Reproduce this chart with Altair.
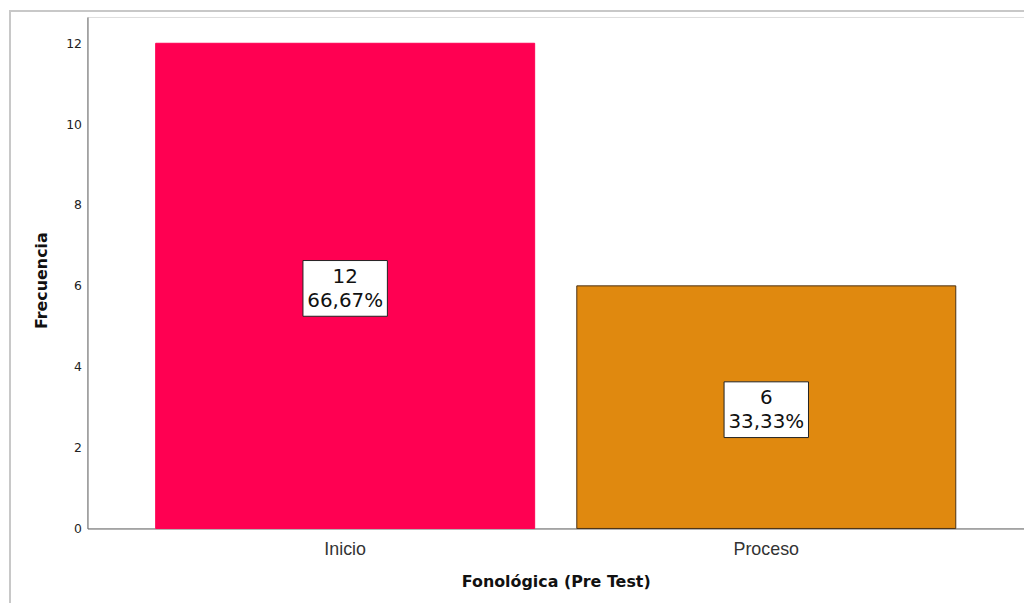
import altair as alt
import pandas as pd

categories = ["Inicio", "Proceso"]
counts = [12, 6]
percents = ["66,67%", "33,33%"]
fills = ["#FF0052", "#E0890F"]
strokes = ["#FF0052", "#4A3015"]

df = pd.DataFrame({
    "cat": categories,
    "n": counts,
    "pct": percents,
    "fill": fills,
    "stroke": strokes,
})
df["mid"] = df["n"] / 2
df["lbl"] = [[str(n), p] for n, p in zip(counts, percents)]

W, H = 943, 515
FONT = "DejaVu Sans"

x_scale = alt.Scale(paddingInner=0.1, paddingOuter=0.162, round=False)
x_enc = alt.X("cat:N", sort=categories, scale=x_scale,
              axis=alt.Axis(title="Fonológica (Pre Test)", labelAngle=0, ticks=False,
                            labelFont="Liberation Sans", labelFontSize=18,
                            labelColor="#333", labelPadding=12,
                            titleFont=FONT, titleFontSize=16, titleFontWeight="bold",
                            titleColor="#111", titlePadding=15, domainColor="#666"))
y_scale = alt.Scale(domain=[0, 12.65], nice=False, zero=True)

bars = alt.Chart(df).mark_bar(strokeWidth=1).encode(
    x=x_enc,
    y=alt.Y("n:Q", scale=y_scale,
            axis=alt.Axis(title="Frecuencia", values=[0, 2, 4, 6, 8, 10, 12], ticks=False,
                          grid=False, labelFont=FONT, labelFontSize=12.5,
                          labelColor="#222", labelPadding=6,
                          titleFont=FONT, titleFontSize=16, titleFontWeight="bold",
                          titleColor="#111", titlePadding=16, titleY=265,
                          domainColor="#666")),
    fill=alt.Fill("fill:N", scale=None),
    stroke=alt.Stroke("stroke:N", scale=None),
)

boxes = alt.Chart(df).mark_point(
    shape="M-1,-0.6L1,-0.6L1,0.72L-1,0.72Z", size=7225, filled=True,
    fill="white", stroke="#222", strokeWidth=1, opacity=1
).encode(
    x=alt.X("cat:N", sort=categories, scale=x_scale),
    y=alt.Y("mid:Q", scale=y_scale),
)

texts = alt.Chart(df).mark_text(
    fontSize=20, font=FONT, color="#111", baseline="middle", align="center",
    lineHeight=24, dy=-9
).encode(
    x=alt.X("cat:N", sort=categories, scale=x_scale),
    y=alt.Y("mid:Q", scale=y_scale),
    text="lbl",
)

frame_top = alt.Chart(df).mark_rule(color="#c8c8c8", strokeWidth=2).encode(
    x=alt.value(-78), x2=alt.value(W + 10), y=alt.value(-6)
)
frame_left = alt.Chart(df).mark_rule(color="#c8c8c8", strokeWidth=2).encode(
    x=alt.value(-78), y=alt.value(-7), y2=alt.value(H + 90)
)

chart = alt.layer(frame_top, frame_left, bars, boxes, texts).properties(
    width=W, height=H,
    autosize=alt.AutoSizeParams(type="none"),
    padding={"left": 80, "top": 7, "right": 0, "bottom": 73},
).configure_view(stroke=None).configure(font=FONT)

chart.save("out.html", embed_options={"renderer": "svg", "actions": False})
